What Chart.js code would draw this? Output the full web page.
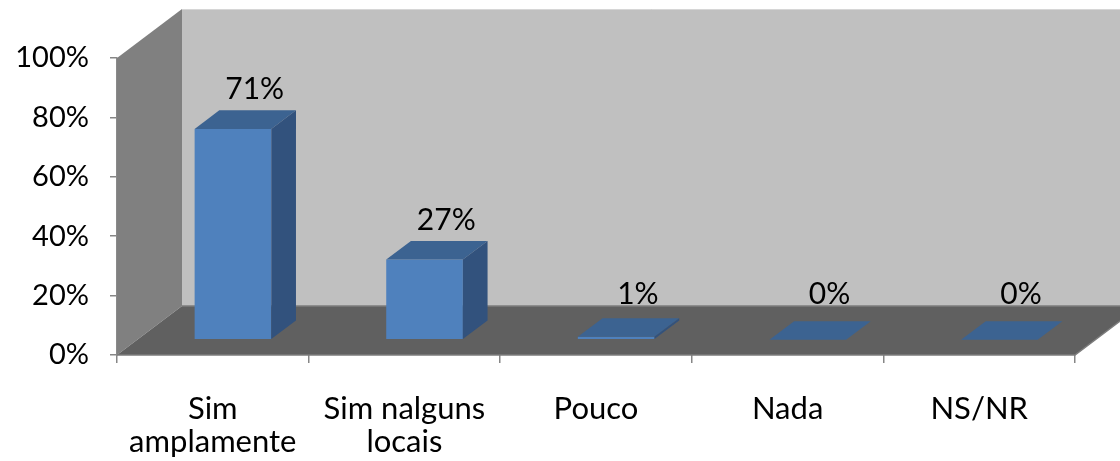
<!DOCTYPE html>
<html>
<head>
<meta charset="utf-8">
<script src="https://cdn.jsdelivr.net/npm/chart.js@4"></script>
<style>
  html, body { margin: 0; padding: 0; background: #fff; }
  #wrap { width: 1120px; height: 461px; }
</style>
</head>
<body>
<div id="wrap"><canvas id="myChart"></canvas></div>
<script>
const categories = [['Sim', 'amplamente'], ['Sim nalguns', 'locais'], 'Pouco', 'Nada', 'NS/NR'];
const shares = [71, 27, 1, 0, 0];
const yTicks = [0, 20, 40, 60, 80, 100];

// depth of the 3d box in pixels, and where the bars sit inside it
const DX = 65, DY = 49;
const F0 = 0.31, F1 = 0.69;

function quad(ctx, pts, fill) {
  ctx.beginPath();
  ctx.moveTo(pts[0][0], pts[0][1]);
  for (let i = 1; i < pts.length; i++) ctx.lineTo(pts[i][0], pts[i][1]);
  ctx.closePath();
  ctx.fillStyle = fill;
  ctx.fill();
}

const box3d = {
  id: 'box3d',
  beforeDatasetsDraw(chart) {
    const ctx = chart.ctx;
    const a = chart.chartArea;
    const y = chart.scales.y;
    const top = y.getPixelForValue(100), bot = y.getPixelForValue(0);
    ctx.save();
    // back wall
    quad(ctx, [[a.left + DX, top - DY], [a.right + DX, top - DY], [a.right + DX, bot - DY], [a.left + DX, bot - DY]], '#c0c0c0');
    ctx.strokeStyle = '#d6d6d6';
    ctx.lineWidth = 1;
    ctx.beginPath();
    ctx.moveTo(a.left + DX, top - DY + 0.5);
    ctx.lineTo(a.right + DX, top - DY + 0.5);
    ctx.stroke();
    // side wall
    quad(ctx, [[a.left, top], [a.left + DX, top - DY], [a.left + DX, bot - DY], [a.left, bot]], '#808080');
    // floor
    quad(ctx, [[a.left, bot], [a.right, bot], [a.right + DX, bot - DY], [a.left + DX, bot - DY]], '#606060');
    ctx.strokeStyle = '#7c7c7c';
    ctx.lineWidth = 1.5;
    ctx.beginPath();
    ctx.moveTo(a.left + DX, bot - DY);
    ctx.lineTo(a.right + DX, bot - DY);
    ctx.moveTo(a.left, bot);
    ctx.lineTo(a.right, bot);
    ctx.lineTo(a.right + DX, bot - DY);
    ctx.stroke();
    ctx.restore();
  },
  afterDatasetsDraw(chart) {
    const ctx = chart.ctx;
    const meta = chart.getDatasetMeta(0);
    const floorBack = chart.scales.y.getPixelForValue(0) - DY;
    ctx.save();
    meta.data.forEach((bar, i) => {
      const w = bar.width;
      const x0 = bar.x - w / 2 + F0 * DX, x1 = x0 + w;
      const t0 = bar.y - F0 * DY, b0 = bar.base - F0 * DY;
      const ox = (F1 - F0) * DX, oy = (F1 - F0) * DY;
      // front, top, side
      quad(ctx, [[x0, t0], [x1, t0], [x1, b0], [x0, b0]], '#4f81bd');
      quad(ctx, [[x0, t0], [x1, t0], [x1 + ox, t0 - oy], [x0 + ox, t0 - oy]], '#3c6391');
      quad(ctx, [[x1, t0], [x1 + ox, t0 - oy], [x1 + ox, b0 - oy], [x1, b0]], '#32527d');

      // value label above the back of the bar
      const lx = bar.x + F1 * DX - 3;
      const ly = Math.min(bar.y - F1 * DY - 21, floorBack - 12);
      ctx.fillStyle = '#000';
      ctx.font = '30px Lato';
      ctx.textAlign = 'center';
      ctx.textBaseline = 'middle';
      ctx.fillText(shares[i] + '%', lx, ly);
    });
    ctx.restore();
  }
};

const ctx = document.getElementById('myChart').getContext('2d');
const chart = new Chart(ctx, {
  type: 'bar',
  data: {
    labels: categories,
    datasets: [{
      data: shares,
      backgroundColor: 'rgba(0,0,0,0)',
      borderWidth: 0,
      barPercentage: 0.4,
      categoryPercentage: 1
    }]
  },
  options: {
    responsive: true,
    maintainAspectRatio: false,
    animation: false,
    layout: { padding: { top: 58, right: 45, left: 0, bottom: 0 } },
    plugins: { legend: { display: false }, tooltip: { enabled: false } },
    scales: {
      x: {
        grid: { drawOnChartArea: false, tickLength: 8, color: '#868686', lineWidth: 1.5, offset: true },
        border: { display: false },
        ticks: { color: '#000', font: { family: 'Lato', size: 31, lineHeight: 1.08 }, padding: 29, maxRotation: 0, autoSkip: false },
        afterFit(scale) { scale.height = 106; }
      },
      y: {
        min: 0,
        max: 100,
        afterBuildTicks(scale) { scale.ticks = yTicks.map(v => ({ value: v })); },
        grid: { drawOnChartArea: false, tickLength: 7, color: '#868686', lineWidth: 1.5 },
        border: { display: true, color: '#8a8a8a', width: 1.5 },
        ticks: { color: '#000', font: { family: 'Lato', size: 29 }, padding: 21, callback: v => v + '%' },
        afterFit(scale) { scale.width = 117; }
      }
    }
  },
  plugins: [box3d]
});
</script>
</body>
</html>
